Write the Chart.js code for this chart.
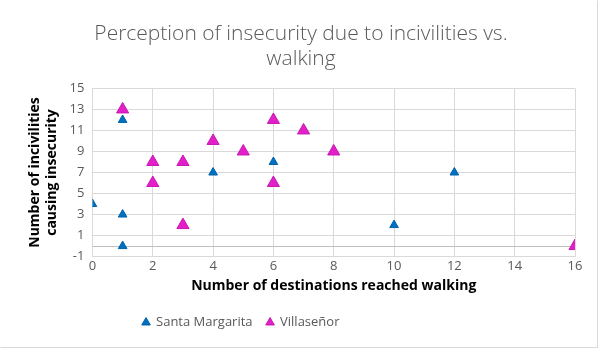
<!DOCTYPE html>
<html>
<head>
<meta charset="utf-8">
<script src="https://cdn.jsdelivr.net/npm/chart.js@4"></script>
<style>
  body { margin: 0; background: #fff; }
  .box { width: 596px; height: 346px; border: 1px solid #d9d9d9; border-top-color: #fff; border-left-color: #fff; }
</style>
</head>
<body>
<div class="box"><canvas id="chart" width="596" height="346"></canvas></div>
<script>
// Santa Margarita
var smX = [0, 1, 1, 1, 4, 6, 10, 12]
var smY = [4, 12, 3, 0, 7, 8, 2, 7]
// Villaseñor
var viX = [1, 2, 2, 3, 3, 4, 5, 6, 6, 7, 8, 16]
var viY = [13, 8, 6, 8, 2, 10, 9, 12, 6, 11, 9, 0]

var xTicks = [0, 2, 4, 6, 8, 10, 12, 14, 16]
var yTicks = [-1, 1, 3, 5, 7, 9, 11, 13, 15]

function pts(xs, ys) {
    return xs.map(function(x, i) { return { x: x, y: ys[i] } })
}

// darker line at y = 0
var zeroLine = {
    id: 'zeroLine',
    beforeDatasetsDraw: function(chart) {
        var ctx = chart.ctx
        var a = chart.chartArea
        var y = chart.scales.y.getPixelForValue(0)
        ctx.save()
        ctx.strokeStyle = '#bfbfbf'
        ctx.lineWidth = 1
        ctx.beginPath()
        ctx.moveTo(a.left, Math.round(y) + 0.5)
        ctx.lineTo(a.right, Math.round(y) + 0.5)
        ctx.stroke()
        ctx.restore()
    }
}

// legend sits left of centre in the original
var legendShift = {
    id: 'legendShift',
    afterLayout: function(chart) {
        chart.legend.left -= 60
        chart.legend.right -= 60
    }
}

Chart.defaults.font.family = '"Open Sans", "Noto Sans", sans-serif'
Chart.defaults.color = '#595959'

new Chart(document.getElementById('chart'), {
    type: 'scatter',
    data: {
        datasets: [{
            label: 'Santa Margarita',
            data: pts(smX, smY),
            pointStyle: 'triangle',
            backgroundColor: '#0070c0',
            borderColor: '#0062a8',
            borderWidth: 1,
            pointRadius: 5
        }, {
            label: 'Villaseñor',
            data: pts(viX, viY),
            pointStyle: 'triangle',
            backgroundColor: '#e21fc9',
            borderColor: '#c818b0',
            borderWidth: 1,
            pointRadius: 7
        }]
    },
    options: {
        responsive: false,
        animation: false,
        layout: { padding: { left: 26, right: 22, top: 10, bottom: 8 } },
        plugins: {
            title: {
                display: true,
                text: ['Perception of insecurity due to incivilities vs.', 'walking'],
                font: { size: 21, weight: '300' },
                color: '#595959',
                padding: { top: 10, bottom: 17 },
                lineHeight: 1.4
            },
            legend: {
                position: 'bottom',
                labels: {
                    usePointStyle: true,
                    boxWidth: 7,
                    boxHeight: 7,
                    font: { size: 13 },
                    color: '#595959',
                    padding: 14
                }
            },
            tooltip: { enabled: false }
        },
        scales: {
            x: {
                min: 0,
                max: 16,
                afterBuildTicks: function(s) { s.ticks = xTicks.map(function(v) { return { value: v } }) },
                grid: { color: '#d9d9d9', drawTicks: false },
                border: { display: false },
                ticks: { font: { size: 13 }, padding: 2 },
                title: {
                    display: true,
                    text: 'Number of destinations reached walking',
                    color: '#000',
                    font: { size: 14, weight: 'bold' },
                    padding: { top: 1, bottom: 8 }
                }
            },
            y: {
                min: -1,
                max: 15,
                afterBuildTicks: function(s) { s.ticks = yTicks.map(function(v) { return { value: v } }) },
                grid: { color: '#d9d9d9', drawTicks: false },
                border: { display: false },
                ticks: { font: { size: 13 }, padding: 8 },
                title: {
                    display: true,
                    text: ['Number of incivilities', 'causing insecurity'],
                    color: '#000',
                    font: { size: 14, weight: 'bold' },
                    lineHeight: 1.5,
                    padding: { top: 0, bottom: 1 }
                }
            }
        }
    },
    plugins: [zeroLine, legendShift]
})
</script>
</body>
</html>
